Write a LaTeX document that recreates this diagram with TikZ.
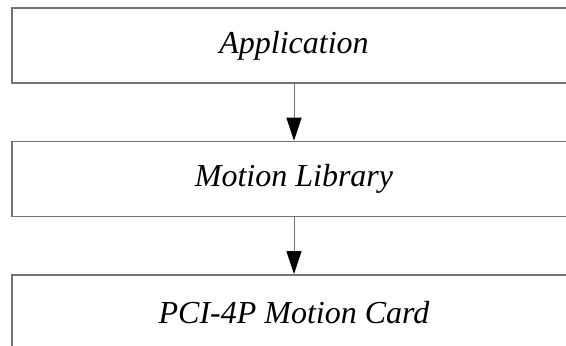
\documentclass[tikz,border=0pt]{standalone}
\usepackage{fontspec}
\setmainfont{Liberation Serif}
\usetikzlibrary{positioning, arrows.meta}
\tikzstyle{layer} = [rectangle, draw=black!55, line width=0.7pt, minimum width=282pt, minimum height=37.5pt, inner sep=0pt, font=\fontsize{16}{18}\selectfont\itshape]
\tikzstyle{arrow} = [draw=black!55, line width=0.5pt, -{Triangle[length=11.5pt,width=7.5pt,color=black]}]

\begin{document}
\begin{tikzpicture}[x=0.5pt,y=-0.5pt, node distance=28.5pt]
	\useasboundingbox (0,0) rectangle (566,345);
	\clip (0,0) rectangle (566,345);
	\node[layer] (app) at (294,45.5) {Application};
	\node[layer, below=of app] (lib) {Motion Library};
	\node[layer, below=of lib] (card) {PCI-4P Motion Card};
	\draw[arrow] (app) -- (lib);
	\draw[arrow] (lib) -- (card);
\end{tikzpicture}
\end{document}
